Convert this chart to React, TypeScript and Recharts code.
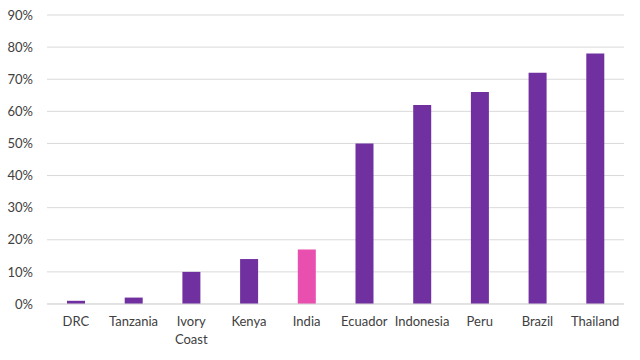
import { Bar, BarChart, CartesianGrid, Cell, XAxis, YAxis } from "recharts";

const countries = ["DRC", "Tanzania", "Ivory Coast", "Kenya", "India", "Ecuador", "Indonesia", "Peru", "Brazil", "Thailand"];
const shares = [1, 2, 10, 14, 17, 50, 62, 66, 72, 78];
const highlight = "India";
const yTicks = [0, 10, 20, 30, 40, 50, 60, 70, 80, 90];

const data = countries.map((country, i) => ({ country, share: shares[i] }));

const PURPLE = "#7030A0";
const PINK = "#E84FAE";
const FONT = "Lato, 'Open Sans', sans-serif";

function CountryTick({ x, y, payload }: any) {
  const label: string = payload.value;
  const lines = label.length > 10 ? label.split(" ") : [label];
  return (
    <text x={x} y={y} textAnchor="middle" fill="#404040" fontSize={13} fontFamily={FONT}>
      {lines.map((line, i) => (
        <tspan key={i} x={x} dy={i === 0 ? 14 : 18}>
          {line}
        </tspan>
      ))}
    </text>
  );
}

export default function App() {
  return (
    <div style={{ position: "fixed", left: 0, top: 0, width: 640, height: 360, background: "#fff" }}>
      <BarChart width={640} height={360} data={data} margin={{ top: 15, right: 16, left: 0, bottom: 0 }}>
        <CartesianGrid vertical={false} stroke="#d9d9d9" />
        <XAxis
          dataKey="country"
          interval={0}
          tickLine={false}
          axisLine={{ stroke: "#d9d9d9" }}
          tick={<CountryTick />}
          height={56}
        />
        <YAxis
          domain={[0, 90]}
          ticks={yTicks}
          width={47}
          tickLine={false}
          axisLine={false}
          tickMargin={8}
          tickFormatter={(v) => `${v}%`}
          tick={{ fill: "#404040", fontSize: 13, fontFamily: FONT }}
        />
        <Bar dataKey="share" barSize={18} isAnimationActive={false}>
          {data.map((d) => (
            <Cell key={d.country} fill={d.country === highlight ? PINK : PURPLE} />
          ))}
        </Bar>
      </BarChart>
    </div>
  );
}
